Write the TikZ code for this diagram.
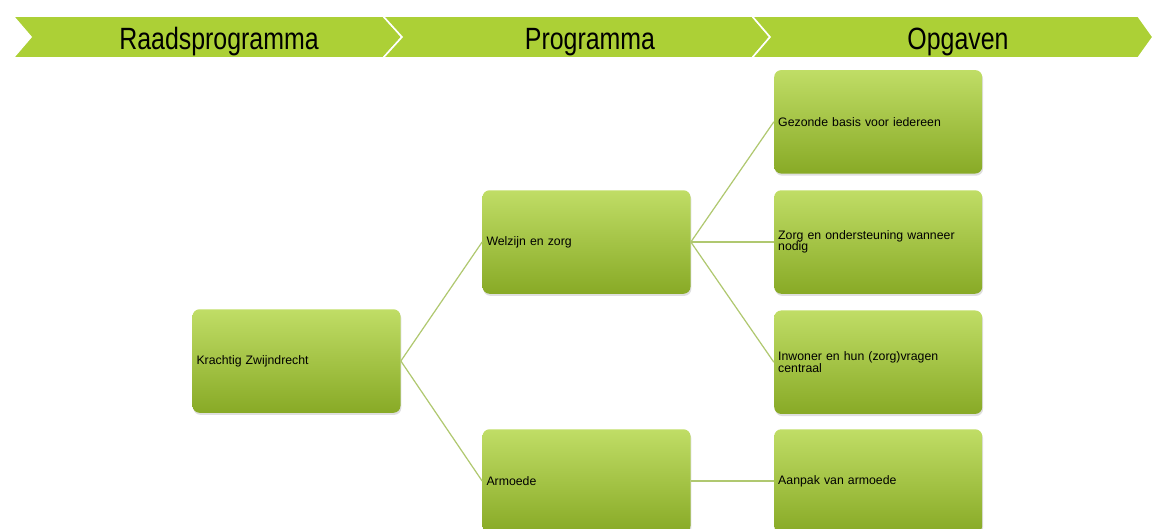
\documentclass[tikz,border=0pt]{standalone}
\usepackage{fontspec}
\setmainfont{Liberation Sans}
\newfontfamily\bandfont[FakeStretch=0.81]{Liberation Sans}
\usepackage{tikz}
\usetikzlibrary{positioning,shadows}
\definecolor{bandgr}{RGB}{172,208,54}
\definecolor{boxtop}{RGB}{192,221,102}
\definecolor{boxmid}{RGB}{170,203,70}
\definecolor{boxbot}{RGB}{136,170,38}
\definecolor{verbind}{RGB}{176,200,112}
\tikzset{
  band/.style={fill=bandgr, draw=white, line width=0.9pt},
  bandtxt/.style={anchor=base, font=\bandfont\fontsize{17.5pt}{20pt}\selectfont},
  prog/.style={rectangle, rounded corners=4pt, draw=none,
    top color=boxtop, middle color=boxmid, bottom color=boxbot,
    drop shadow={opacity=0.25, shadow xshift=0.5pt, shadow yshift=-1.2pt},
    minimum width=4.16cm, minimum height=2.07cm, inner xsep=0.08cm,
    text width=4.0cm, align=left, font=\fontsize{7pt}{6.6pt}\selectfont},
  line/.style={draw=verbind, line width=0.7pt}
}

\begin{document}
\begin{tikzpicture}
    \useasboundingbox (0,0) rectangle (23.04,-10.56);
    \clip (0,0) rectangle (23.04,-10.56);

    \path[band] (0.26,-0.32) -- (7.66,-0.32) -- (8.04,-0.74) -- (7.66,-1.16) -- (0.26,-1.16) -- (0.62,-0.74) -- cycle;
    \path[band] (7.66,-0.32) -- (15.04,-0.32) -- (15.40,-0.74) -- (15.04,-1.16) -- (7.66,-1.16) -- (8.04,-0.74) -- cycle;
    \path[band] (15.04,-0.32) -- (22.76,-0.32) -- (23.06,-0.74) -- (22.76,-1.16) -- (15.04,-1.16) -- (15.40,-0.74) -- cycle;

    \node[bandtxt] (hraad) at (4.38,-0.99) {Raadsprogramma};
    \node[bandtxt] (hprog) at (11.80,-0.99) {Programma};
    \node[bandtxt] (hopg) at (19.16,-0.99) {Opgaven};

    \node[prog] (kracht) at (5.93,-7.22) {Krachtig Zwijndrecht};
    \node[prog] (welzijn) at (11.73,-4.84) {Welzijn en zorg};
    \node[prog] (armoede) at (11.73,-9.62) {Armoede};

    \node[prog,right=1.66cm of welzijn] (zorg) {Zorg en ondersteuning wanneer\\ nodig};
    \node[prog,above=0.32cm of zorg] (gezond) {Gezonde basis voor iedereen};
    \node[prog,below=0.32cm of zorg] (inwoner) {Inwoner en hun (zorg)vragen\\ centraal};
    \node[prog,right=1.66cm of armoede] (aanpak) {Aanpak van armoede};

    \begin{scope}[every path/.style=line]
      \path (kracht.east) -- (welzijn.west);
      \path (kracht.east) -- (armoede.west);
      \path (welzijn.east) -- (gezond.west);
      \path (welzijn.east) -- (zorg.west);
      \path (welzijn.east) -- (inwoner.west);
      \path (armoede.east) -- (aanpak.west);
    \end{scope}

\end{tikzpicture}
\end{document}
